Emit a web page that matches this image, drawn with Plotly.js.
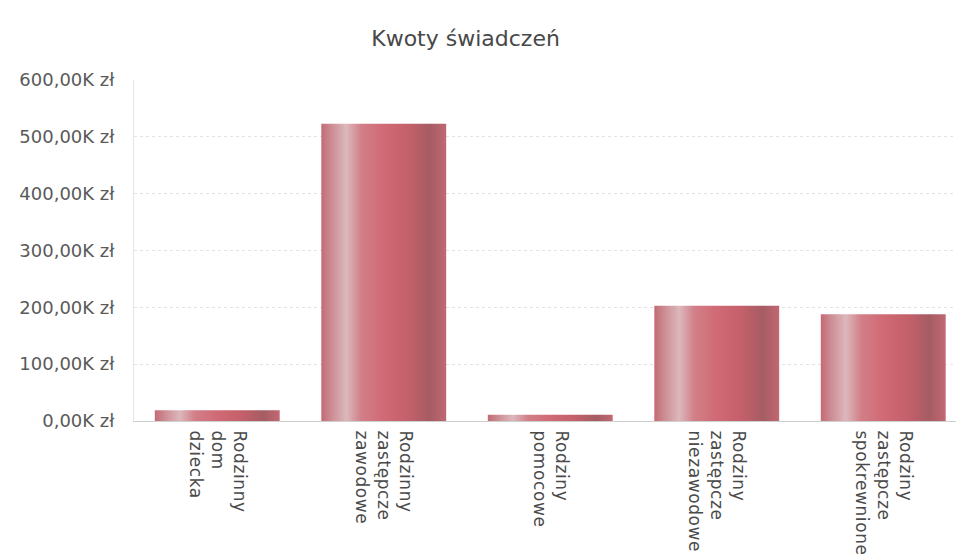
<!DOCTYPE html>
<html><head><meta charset="utf-8">
<script src="https://cdn.plot.ly/plotly-3.0.1.min.js"></script>
<style>html,body{margin:0;padding:0;background:#fff}#chart{width:956px;height:560px}</style>
</head><body><div id="chart"></div>
<script>
const categories = ["Rodzinny<br>dom<br>dziecka","Rodzinny<br>zastępcze<br>zawodowe","Rodziny<br>pomocowe","Rodziny<br>zastępcze<br>niezawodowe","Rodziny<br>zastępcze<br>spokrewnione"];
const amounts = [19000, 523000, 11000, 203000, 188000];
const yTickVals = [0, 100000, 200000, 300000, 400000, 500000, 600000];
const yTickText = ["0,00K zł","100,00K zł","200,00K zł","300,00K zł","400,00K zł","500,00K zł","600,00K zł"];

const trace = {type:'bar', x:[0,1,2,3,4], y:amounts, marker:{color:'#c4646e', line:{width:0}}, hoverinfo:'skip'};
const layout = {
  width:956, height:560,
  margin:{l:134, r:0, t:80, b:139},
  paper_bgcolor:'#fff', plot_bgcolor:'#fff',
  font:{family:'"DejaVu Sans", sans-serif', color:'#555'},
  title:{text:'Kwoty świadczeń', x:0.487, xanchor:'center', y:0.932, yanchor:'middle', font:{family:'"DejaVu Sans", sans-serif', size:22, color:'#484848'}},
  bargap:0.25,
  showlegend:false,
  xaxis:{range:[-0.5,4.437], tickvals:[0,1,2,3,4], ticktext:categories, tickangle:90, tickfont:{size:17, color:'#4a4a4a'},
         showgrid:false, zeroline:false, showline:true, linecolor:'#cfcfcf', linewidth:1, ticks:'', ticklabelstandoff:5},
  yaxis:{range:[0,600000], tickvals:yTickVals, ticktext:yTickText, tickfont:{size:18, color:'#5a5a5a'},
         showgrid:true, gridcolor:'#e2e2e2', griddash:'dot', gridwidth:1, zeroline:false,
         showline:true, linecolor:'#e4e4e4', linewidth:1, ticks:'', ticklabelstandoff:15}
};
Plotly.newPlot('chart',[trace],layout,{displayModeBar:false,staticPlot:true}).then(function(gd){
  const svg = gd.querySelector('svg.main-svg');
  const ns = 'http://www.w3.org/2000/svg';
  let defs = svg.querySelector('defs');
  if(!defs){defs=document.createElementNS(ns,'defs');svg.insertBefore(defs,svg.firstChild);}
  const lg = document.createElementNS(ns,'linearGradient');
  lg.setAttribute('id','barGrad'); lg.setAttribute('x1','0'); lg.setAttribute('x2','1'); lg.setAttribute('y1','0'); lg.setAttribute('y2','0');
  const stops = [[0,'#c46a74'],[0.08,'#cc8c93'],[0.2,'#dcb8bc'],[0.32,'#d27f88'],[0.5,'#d06a74'],[0.7,'#c4606a'],[0.87,'#a55c63'],[1,'#c26872']];
  stops.forEach(function(s){const st=document.createElementNS(ns,'stop');st.setAttribute('offset',s[0]);st.setAttribute('stop-color',s[1]);lg.appendChild(st);});
  defs.appendChild(lg);
  gd.querySelectorAll('.bars .point path').forEach(function(p){p.style.fill='url(#barGrad)';});
  gd.querySelectorAll('.xtick text').forEach(function(t){t.style.letterSpacing='0.6px';});
});
</script></body></html>
